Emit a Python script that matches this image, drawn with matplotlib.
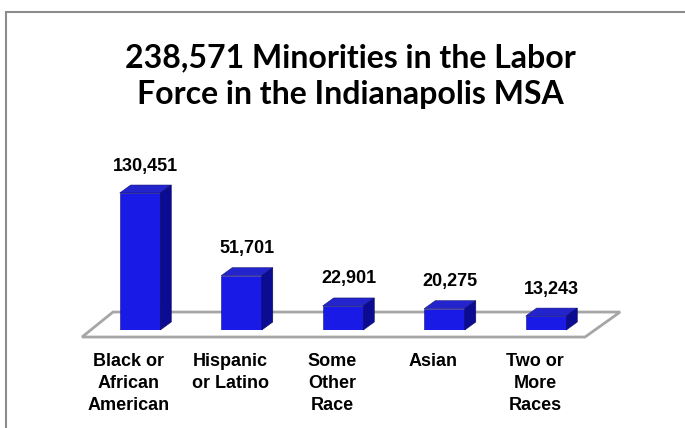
import matplotlib
matplotlib.use("Agg")
import matplotlib.pyplot as plt
from matplotlib.patches import Polygon, Rectangle
import numpy as np

# data
categories = ["Black or\nAfrican\nAmerican", "Hispanic\nor Latino", "Some\nOther\nRace", "Asian", "Two or\nMore\nRaces"]
values = [130451, 51701, 22901, 20275, 13243]
title = "238,571 Minorities in the Labor\nForce in the Indianapolis MSA"

front_col = "#1a1ae6"
top_col = "#2424cc"
side_col = "#0c0c92"

fig = plt.figure(figsize=(6.85, 4.28), dpi=100)

# gray frame (only top and left are visible in the original)
fig.patches.append(Rectangle((6 / 685, -0.1), 1.2, (428 - 12) / 428 + 0.1, transform=fig.transFigure,
                             fill=False, edgecolor="#8c8c8c", linewidth=1.5))

ax = fig.add_axes([0.1303, 0.2290, 0.7409, 0.3680])
ax.set_xlim(-0.5, 4.5)
ax.set_ylim(0, 150000)
ax.axis("off")

x = np.arange(len(values))
width = 0.40
dx = 0.108   # 3d depth, data units
dy = 7600

# floor
floor = Polygon([(-0.571, -6700), (-0.266, 17100), (4.73, 17100), (4.384, -6700)], closed=True,
                facecolor="white", edgecolor="#a6a6a6", linewidth=2, clip_on=False, zorder=1)
ax.add_patch(floor)

bars = ax.bar(x, values, width, color=front_col, edgecolor="#10107a", linewidth=0.4, zorder=3)
for b, v in zip(bars, values):
    x0 = b.get_x()
    x1 = x0 + b.get_width()
    top = Polygon([(x0, v), (x0 + dx, v + dy), (x1 + dx, v + dy), (x1, v)], closed=True,
                  facecolor=top_col, edgecolor="#10107a", linewidth=0.4, zorder=3, clip_on=False)
    side = Polygon([(x1, 0), (x1 + dx, dy), (x1 + dx, v + dy), (x1, v)], closed=True,
                   facecolor=side_col, edgecolor="#0a0a60", linewidth=0.4, zorder=3, clip_on=False)
    ax.add_patch(top)
    ax.add_patch(side)
    ax.annotate(f"{v:,}", xy=(x0 + width / 2 + dx / 2, v + dy), xytext=(0, 13.7), textcoords="offset points",
                ha="center", va="center", fontsize=13, fontweight="bold", family="Liberation Sans",
                annotation_clip=False)

for xi, lab in zip(x, categories):
    ax.annotate(lab, xy=(xi - 0.11, 0), xytext=(0, -16.5), textcoords="offset points",
                ha="center", va="top", fontsize=13, fontweight="bold", family="Liberation Sans",
                linespacing=1.4, annotation_clip=False)

fig.text(0.511, 0.822, title, ha="center", va="center", fontsize=23, fontweight="bold",
         family="Lato", linespacing=1.32)

fig.savefig("out.png", dpi=100)
